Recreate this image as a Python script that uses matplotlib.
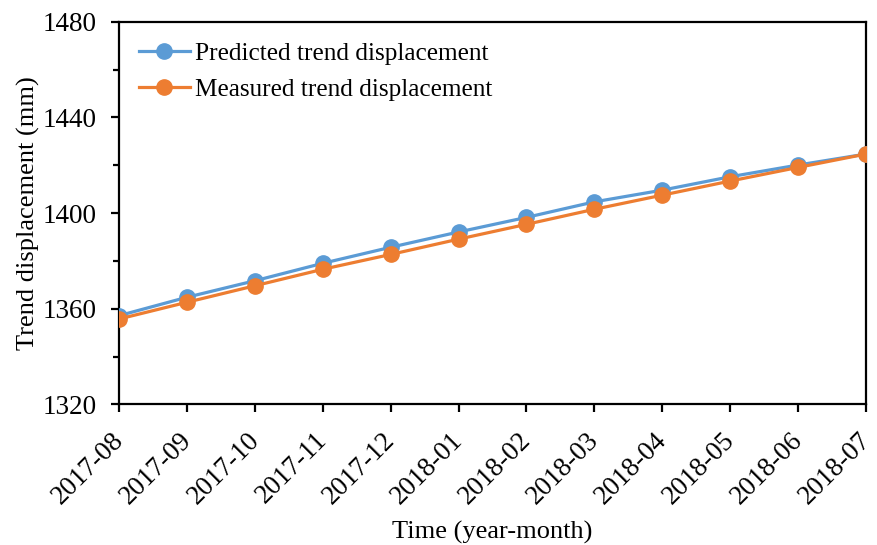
import matplotlib
matplotlib.use("Agg")
import matplotlib.pyplot as plt
import matplotlib.transforms as mtransforms
from matplotlib.ticker import MultipleLocator

months = ["2017-08", "2017-09", "2017-10", "2017-11", "2017-12", "2018-01",
          "2018-02", "2018-03", "2018-04", "2018-05", "2018-06", "2018-07"]
predicted = [1357.1, 1364.8, 1371.7, 1379.0, 1385.7, 1392.1,
             1398.2, 1404.7, 1409.6, 1415.2, 1420.1, 1424.7]
measured = [1355.7, 1362.7, 1369.6, 1376.5, 1382.7, 1389.1,
            1395.3, 1401.6, 1407.5, 1413.4, 1419.1, 1424.7]

plt.rcParams['font.family'] = ['Liberation Serif', 'DejaVu Serif']

fig = plt.figure(figsize=(8.78, 5.45), dpi=100)
ax = fig.add_axes([0.1355, 0.258, 0.8508, 0.702])

x = list(range(len(months)))
ax.plot(x, predicted, color='#5B9BD5', lw=2.3, marker='o', ms=11,
        label='Predicted trend displacement', zorder=3)
ax.plot(x, measured, color='#ED7D31', lw=2.3, marker='o', ms=11,
        label='Measured trend displacement', zorder=4)

ax.set_xlim(0, len(months) - 1)
ax.set_ylim(1320, 1480)
ax.yaxis.set_major_locator(MultipleLocator(40))
ax.yaxis.set_minor_locator(MultipleLocator(20))
ax.set_xticks(x)
ax.set_xticklabels(months, rotation=45, ha='right', va='top',
                   rotation_mode='anchor')

for s in ax.spines.values():
    s.set_linewidth(1.6)
ax.tick_params(axis='both', which='major', direction='out', length=6, width=1.6)
ax.tick_params(axis='y', which='major', pad=10, labelsize=19.5)
ax.tick_params(axis='y', which='minor', direction='out', length=4, width=1.6)
ax.tick_params(axis='x', pad=11, labelsize=19.5)

offset = mtransforms.ScaledTranslation(-8 / 100, 0, fig.dpi_scale_trans)
for lbl in ax.get_xticklabels():
    lbl.set_transform(lbl.get_transform() + offset)

ax.set_xlabel('Time (year-month)', fontsize=19, labelpad=8)
ax.set_ylabel('Trend displacement (mm)', fontsize=19, labelpad=2)

ax.legend(loc='upper left', frameon=False, fontsize=18.2, handlelength=2.0,
          handletextpad=0.2, borderaxespad=0.4, labelspacing=0.55,
          bbox_to_anchor=(0.0, 1.0))

fig.savefig('out.png', dpi=100)
